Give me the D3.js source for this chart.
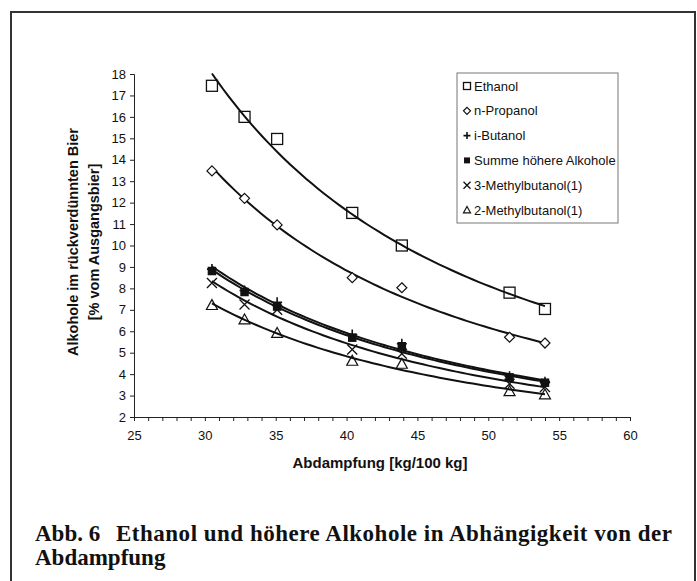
<!DOCTYPE html>
<html>
<head>
<meta charset="utf-8">
<script src="https://cdn.jsdelivr.net/npm/d3@7"></script>
<style>
  body { margin: 0; background: #fff; }
  svg { display: block; }
</style>
</head>
<body>
<div id="chart"></div>
<script>
// Abdampfung [kg/100 kg]
const abdampfung = [30.5, 32.8, 35.1, 40.4, 43.9, 51.5, 54.0];

const ethanol      = [17.45, 16.0, 14.97, 11.52, 10.0, 7.8, 7.04];
const nPropanol    = [13.48, 12.2, 10.96, 8.5, 8.03, 5.72, 5.45];
const iButanol     = [8.9, 7.9, 7.35, 5.85, 5.42, 3.9, 3.65];
const summe        = [8.81, 7.83, 7.15, 5.7, 5.3, 3.85, 3.6];
const methylbut3   = [8.25, 7.25, 7.0, 5.15, 4.95, 3.55, 3.4];
const methylbut2   = [7.22, 6.55, 5.92, 4.62, 4.48, 3.2, 3.05];

const seriesNames = ["Ethanol", "n-Propanol", "i-Butanol", "Summe höhere Alkohole", "3-Methylbutanol(1)", "2-Methylbutanol(1)"];
const seriesValues = [ethanol, nPropanol, iButanol, summe, methylbut3, methylbut2];
const seriesSymbols = ["square", "diamond", "plus", "filled", "cross", "triangle"];

const xTicks = [25, 30, 35, 40, 45, 50, 55, 60];
const yTicks = d3.range(2, 19);

const W = 697, H = 581;
const svg = d3.select("#chart").append("svg")
    .attr("width", W)
    .attr("height", H);

// outer frame (open at the bottom)
svg.append("path")
    .attr("d", "M11,590 L11,12 L695,12 L695,590")
    .attr("fill", "none")
    .attr("stroke", "#333")
    .attr("stroke-width", 2);

const x = d3.scaleLinear().domain([25, 60]).range([134, 630]);
const y = d3.scaleLinear().domain([2, 18]).range([417, 74]);

// axes
const xAxis = svg.append("g")
    .attr("transform", `translate(0,${y(2)})`)
    .call(d3.axisBottom(x).tickValues(d3.range(25, 61)).tickSize(4)
        .tickFormat(d => xTicks.includes(d) ? d : ""));
const yAxis = svg.append("g")
    .attr("transform", `translate(${x(25)},0)`)
    .call(d3.axisLeft(y).tickValues(yTicks).tickSize(4).tickFormat(d3.format("d")));

[xAxis, yAxis].forEach(g => {
    g.select(".domain").attr("stroke", "#222").attr("stroke-width", 1);
    g.selectAll(".tick line").attr("stroke", "#222");
    g.selectAll("text")
        .attr("fill", "#111")
        .style("font-family", "Liberation Sans, Arial, sans-serif")
        .style("font-size", "13px");
});
xAxis.selectAll("text").attr("dy", "1.2em");
yAxis.selectAll("text").attr("x", -8);

// axis titles
svg.append("text")
    .attr("x", 380)
    .attr("y", 468)
    .attr("text-anchor", "middle")
    .style("font-family", "Liberation Sans, Arial, sans-serif")
    .style("font-weight", "bold")
    .style("font-size", "15px")
    .attr("fill", "#111")
    .text("Abdampfung [kg/100 kg]");

const yTitle = svg.append("text")
    .attr("transform", "translate(0,242) rotate(-90)")
    .attr("text-anchor", "middle")
    .style("font-family", "Liberation Sans, Arial, sans-serif")
    .style("font-weight", "bold")
    .style("font-size", "14.5px")
    .attr("fill", "#111");
yTitle.append("tspan").attr("x", 0).attr("y", 78).text("Alkohole im rückverdünnten Bier");
yTitle.append("tspan").attr("x", 0).attr("y", 99).text("[% vom Ausgangsbier]");

// power trend lines (least squares in log space)
function powerFit(xs, ys) {
    const lx = xs.map(Math.log), ly = ys.map(Math.log);
    const mx = d3.mean(lx), my = d3.mean(ly);
    const b = d3.sum(lx, (v, i) => (v - mx) * (ly[i] - my)) / d3.sum(lx, v => (v - mx) * (v - mx));
    const a = Math.exp(my - b * mx);
    return v => a * Math.pow(v, b);
}

const line = d3.line().x(d => x(d[0])).y(d => y(d[1]));
const xMin = d3.min(abdampfung), xMax = d3.max(abdampfung);
const steps = d3.range(0, 61).map(i => xMin + (xMax - xMin) * i / 60);

seriesValues.forEach(vals => {
    const f = powerFit(abdampfung, vals);
    svg.append("path")
        .attr("d", line(steps.map(v => [v, f(v)])))
        .attr("fill", "none")
        .attr("stroke", "#111")
        .attr("stroke-width", 2);
});

// marker drawing
function drawMarker(g, type, cx, cy, s) {
    const h = s / 2;
    if (type === "square") {
        g.append("rect").attr("x", cx - h).attr("y", cy - h).attr("width", s).attr("height", s)
            .attr("fill", "none").attr("stroke", "#111").attr("stroke-width", 1.3);
    } else if (type === "filled") {
        g.append("rect").attr("x", cx - h * 0.85).attr("y", cy - h * 0.85).attr("width", s * 0.85).attr("height", s * 0.85)
            .attr("fill", "#111");
    } else if (type === "diamond") {
        g.append("path").attr("d", `M${cx},${cy - h} L${cx + h},${cy} L${cx},${cy + h} L${cx - h},${cy} Z`)
            .attr("fill", "#fff").attr("stroke", "#111").attr("stroke-width", 1.2);
    } else if (type === "plus") {
        g.append("path").attr("d", `M${cx - h},${cy} L${cx + h},${cy} M${cx},${cy - h} L${cx},${cy + h}`)
            .attr("stroke", "#111").attr("stroke-width", 1.6);
    } else if (type === "cross") {
        g.append("path").attr("d", `M${cx - h},${cy - h} L${cx + h},${cy + h} M${cx + h},${cy - h} L${cx - h},${cy + h}`)
            .attr("stroke", "#111").attr("stroke-width", 1.3);
    } else if (type === "triangle") {
        g.append("path").attr("d", `M${cx},${cy - h} L${cx + h},${cy + h * 0.8} L${cx - h},${cy + h * 0.8} Z`)
            .attr("fill", "none").attr("stroke", "#111").attr("stroke-width", 1.2);
    }
}

const markerSizes = [11, 10, 10, 10, 10, 11];
seriesValues.forEach((vals, si) => {
    const g = svg.append("g").attr("class", "series");
    vals.forEach((v, i) => drawMarker(g, seriesSymbols[si], x(abdampfung[i]), y(v), markerSizes[si]));
});

// legend
const legend = svg.append("g").attr("class", "legend");
legend.append("rect")
    .attr("x", 457).attr("y", 73).attr("width", 161).attr("height", 150)
    .attr("fill", "#fff").attr("stroke", "#777").attr("stroke-width", 1);

seriesNames.forEach((name, i) => {
    const cy = 86 + i * 24.8;
    drawMarker(legend, seriesSymbols[i], 467, cy, 7);
    legend.append("text")
        .attr("x", 474)
        .attr("y", cy + 4.5)
        .style("font-family", "Liberation Sans, Arial, sans-serif")
        .style("font-size", "13px")
        .attr("fill", "#111")
        .text(name);
});

// caption (first line justified to the right margin)
const captionFont = (sel) => sel
    .style("font-family", "Liberation Serif, Times New Roman, serif")
    .style("font-weight", "bold")
    .style("font-size", "23px")
    .attr("fill", "#111");

svg.append("text").attr("x", 35).attr("y", 541).call(captionFont).text("Abb. 6");
svg.append("text").attr("x", 116).attr("y", 541).call(captionFont)
    .attr("textLength", 556)
    .attr("lengthAdjust", "spacing")
    .text("Ethanol und höhere Alkohole in Abhängigkeit von der");
svg.append("text").attr("x", 35).attr("y", 565).call(captionFont).text("Abdampfung");
</script>
</body>
</html>
